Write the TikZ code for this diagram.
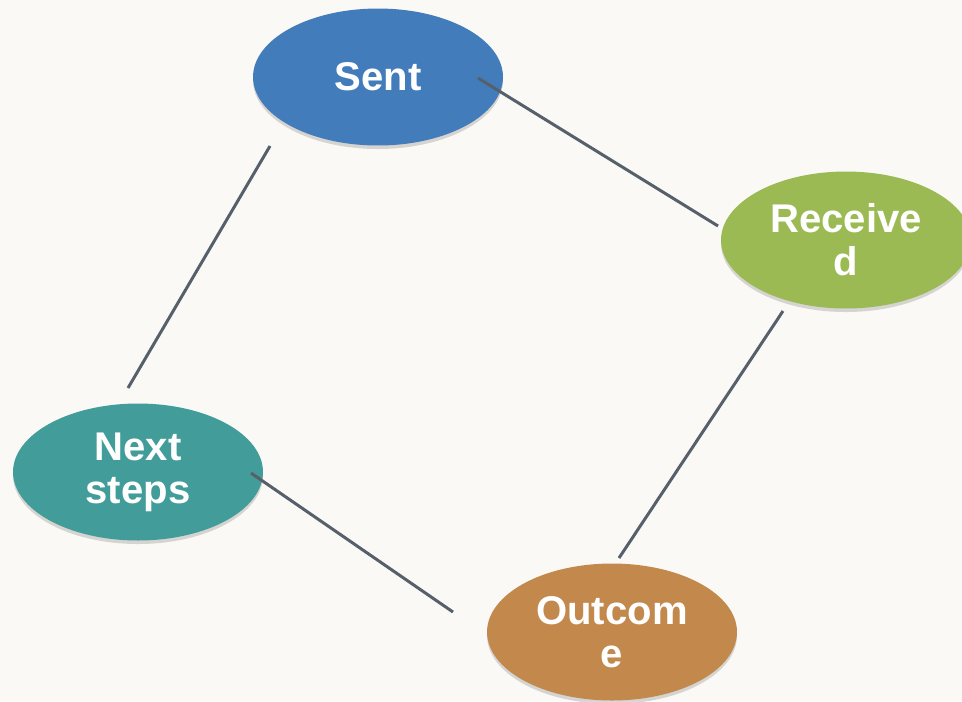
\documentclass[tikz,border=0pt]{standalone}
\usepackage{fontspec}
\setmainfont{Liberation Sans}
\usepackage{tikz}
\usetikzlibrary{shapes.geometric, shadows, calc}
\definecolor{bgcol}{HTML}{FAF9F5}
\definecolor{sentblue}{HTML}{427CBB}
\definecolor{recvgreen}{HTML}{9BBA53}
\definecolor{nextteal}{HTML}{429D9A}
\definecolor{outbrown}{HTML}{C2884C}
\definecolor{linkgray}{HTML}{56606B}

\begin{document}
\begin{tikzpicture}[x=0.02cm, y=-0.02cm]
\tikzstyle{stage}=[ellipse, minimum width=5cm, minimum height=2.74cm, inner sep=0pt, text=white, align=center, font=\fontsize{22.8}{24.6}\selectfont\bfseries, drop shadow={opacity=0.3, shadow xshift=0pt, shadow yshift=-2pt}]
\tikzstyle{link}=[draw=linkgray, line width=1.7pt]
\clip (0,0) rectangle (962,701);
\fill[bgcol] (0,0) rectangle (962,701);

\node[stage, fill=sentblue] (sent) at (378,77) {Sent};
\node[stage, fill=recvgreen] (recv) at (846,240) {Receive\\d};
\node[stage, fill=nextteal] (next) at (138,472) {Next\\steps};
\node[stage, fill=outbrown] (outc) at (612,632) {Outcom\\e};

\coordinate (sentE) at ($(sent)+(100,1)$);
\coordinate (sentS) at ($(sent)+(-108,69)$);
\coordinate (recvW) at ($(recv)+(-128,-14)$);
\coordinate (recvS) at ($(recv)+(-63,71)$);
\coordinate (nextN) at ($(next)+(-10,-84)$);
\coordinate (nextE) at ($(next)+(113,1)$);
\coordinate (outcN) at ($(outc)+(7,-74)$);
\coordinate (outcW) at ($(outc)+(-159,-20)$);

\path[link]
(sentE) edge (recvW)
(sentS) edge (nextN)
(recvS) edge (outcN)
(nextE) edge (outcW);
\end{tikzpicture}
\end{document}
